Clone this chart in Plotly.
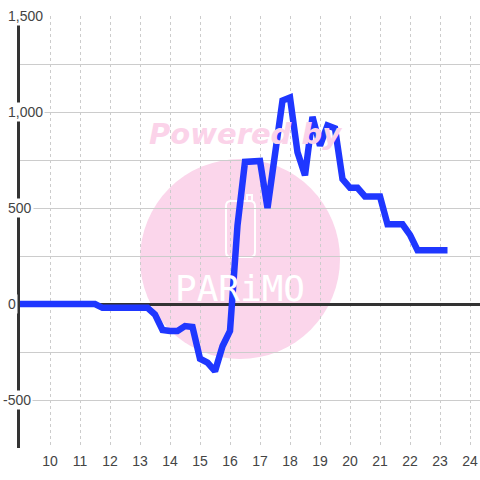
import plotly.graph_objects as go

# quarter-hour times
hours = [9.0, 9.25, 9.5, 9.75, 10.0, 10.25, 10.5, 10.75, 11.0, 11.25, 11.5, 11.75,
         12.0, 12.25, 12.5, 12.75, 13.0, 13.25, 13.5, 13.75, 14.0, 14.25, 14.5, 14.75,
         15.0, 15.25, 15.5, 15.75, 16.0, 16.25, 16.5, 16.75, 17.0, 17.25, 17.5, 17.75,
         18.0, 18.25, 18.5, 18.75, 19.0, 19.25, 19.5, 19.75, 20.0, 20.25, 20.5, 20.75,
         21.0, 21.25, 21.5, 21.75, 22.0, 22.25, 22.5, 22.75, 23.0, 23.25]
values = [0, 0, 0, 0, 0, 0, 0, 0, 0, 0, 0, -20,
          -20, -20, -20, -20, -20, -20, -55, -135, -140, -140, -115, -120,
          -285, -305, -350, -220, -140, 410, 740, 745, 745, 500, 780, 1060,
          1075, 790, 670, 975, 825, 930, 915, 650, 605, 605, 560, 560,
          560, 415, 415, 415, 360, 280, 280, 280, 280, 280]

x_ticks = list(range(10, 25))
x_tick_text = [str(v) for v in x_ticks]
y_ticks = [-500, 0, 500, 1000, 1500]
y_tick_text = ["-500", "0", "500", "1,000", "1,500"]

W, H = 480, 480
ml, mr, mt, mb = 20, 0, 16, 32
pw, ph = W - ml - mr, H - mt - mb


def px_x(p):
    return (p - ml) / pw


def px_y(p):
    return (H - mb - p) / ph


fig = go.Figure()
fig.add_trace(go.Scatter(x=hours, y=values, mode="lines",
                         line=dict(color="#1f37ff", width=6.5),
                         hoverinfo="skip", showlegend=False))

shapes = [
    dict(type="circle", xref="paper", yref="paper",
         x0=px_x(140), x1=px_x(340), y0=px_y(359), y1=px_y(159),
         fillcolor="#fbd6eb", line=dict(width=0), layer="below"),
    dict(type="path", xref="paper", yref="paper",
         path=("M {a},{b} L {a},{c} Q {a},{d} {e},{d} L {f},{d} Q {g},{d} {g},{c} "
               "L {g},{b} Q {g},{h} {f},{h} L {e},{h} Q {a},{h} {a},{b} Z").format(
             a=px_x(226), b=px_y(206), c=px_y(252), d=px_y(257), e=px_x(231),
             f=px_x(250), g=px_x(255), h=px_y(201)),
         line=dict(color="white", width=2), layer="below"),
    dict(type="path", xref="paper", yref="paper",
         path="M {a},{b} L {a},{c} L {d},{c} L {d},{b}".format(
             a=px_x(247), b=px_y(201), c=px_y(195), d=px_x(252)),
         line=dict(color="white", width=2), layer="below"),
]

annotations = [
    dict(xref="paper", yref="paper", x=px_x(147), y=px_y(134), xanchor="left",
         yanchor="middle", showarrow=False, text="<b><i>Powered by</i></b>",
         font=dict(family="DejaVu Sans", size=29, color="#fbd3e9")),
    dict(xref="paper", yref="paper", x=px_x(240), y=px_y(288), xanchor="center",
         yanchor="middle", showarrow=False, text="PARiMO",
         font=dict(family="DejaVu Sans Mono", size=36, color="white")),
]
for v, t in zip(y_ticks, y_tick_text):
    annotations.append(dict(
        xref="paper", yref="y", x=0, y=v, xanchor="left", yanchor="middle",
        xshift=-14 - (5 if t.startswith("-") else 0), showarrow=False, text=t,
        bgcolor="white", borderpad=1,
        font=dict(family="Liberation Sans, Arial, sans-serif", size=14, color="#444")))

fig.update_layout(
    width=W, height=H,
    margin=dict(l=ml, r=mr, t=mt, b=mb, pad=0),
    paper_bgcolor="white", plot_bgcolor="white",
    shapes=shapes, annotations=annotations,
    font=dict(family="Liberation Sans, Arial, sans-serif", size=14, color="#444"),
    xaxis=dict(range=[9, 9 + pw / 30.0], tickvals=x_ticks, ticktext=x_tick_text,
               showgrid=True, gridcolor="#cccccc", gridwidth=1, griddash="3px,3px",
               zeroline=False, showline=False, ticks="", ticklabelstandoff=3,
               fixedrange=True),
    yaxis=dict(range=[-750, 1500], dtick=250, tick0=0, showticklabels=False,
               showgrid=True, gridcolor="#cccccc", gridwidth=1,
               zeroline=True, zerolinecolor="#333333", zerolinewidth=3,
               showline=True, linecolor="#333333", linewidth=3, ticks="",
               fixedrange=True),
)

fig.write_html("out.html", config={"displayModeBar": False},
               post_script="document.body.style.margin='0';"
                           "document.body.style.overflow='hidden';")
